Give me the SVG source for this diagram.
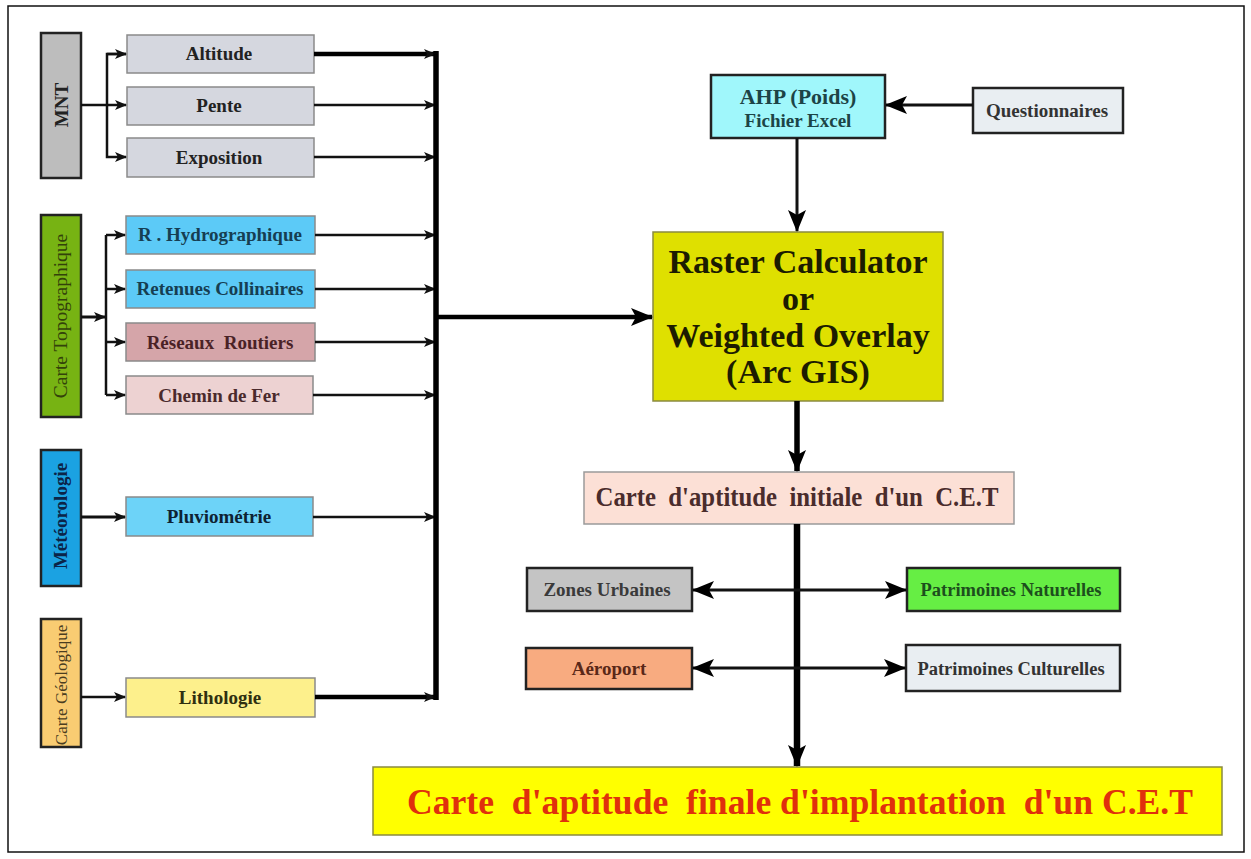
<svg xmlns="http://www.w3.org/2000/svg" width="1251" height="859" viewBox="0 0 1251 859">
<style>
text{font-family:"Liberation Serif","Times New Roman",serif;font-weight:bold;text-anchor:middle}
.cat{stroke:#222;stroke-width:2.5}
.in{stroke:#8a8a8a;stroke-width:1.5}
.dk{stroke:#222;stroke-width:2.5}
.ln{fill:none;stroke:#111;stroke-width:2.5}
.w3{stroke-width:3}
.w4{stroke-width:4.5;stroke:#000}
.w5{stroke-width:5.5;stroke:#000}
.w6{stroke-width:6.5;stroke:#000}
.lt{font-size:19px}
.rg{font-weight:normal}
</style>
<defs>
<marker id="a" markerUnits="userSpaceOnUse" markerWidth="12" markerHeight="10" refX="11" refY="5" orient="auto"><path d="M0,0 L12,5 L0,10 L3,5 Z" fill="#111"/></marker>
<marker id="b" markerUnits="userSpaceOnUse" markerWidth="22" markerHeight="18" refX="21" refY="9" orient="auto"><path d="M0,0 L22,9 L0,18 L5,9 Z" fill="#000"/></marker>
<marker id="bs" markerUnits="userSpaceOnUse" markerWidth="22" markerHeight="18" refX="1" refY="9" orient="auto"><path d="M22,0 L0,9 L22,18 L17,9 Z" fill="#000"/></marker>
</defs>
<rect x="8" y="6" width="1236" height="846" fill="#fff" stroke="#111" stroke-width="1.5"/>

<g id="mnt"><rect class="cat" x="41" y="33" width="40" height="145" fill="#bdbdbd"/><text transform="translate(68,105) rotate(-90)" font-size="19" fill="#222">MNT</text></g>
<g id="altitude"><rect class="in" x="127" y="35" width="187" height="38" fill="#d5d7df"/><text class="lt" x="219" y="60" fill="#222">Altitude</text></g>
<g id="pente"><rect class="in" x="127" y="87" width="187" height="38" fill="#d5d7df"/><text class="lt" x="219" y="112" fill="#222">Pente</text></g>
<g id="exposition"><rect class="in" x="127" y="138" width="187" height="39" fill="#d5d7df"/><text class="lt" x="219" y="164" fill="#222">Exposition</text></g>

<g id="topo"><rect class="cat" x="41" y="215" width="40" height="202" fill="#77b313"/><text class="rg" transform="translate(67,316) rotate(-90)" font-size="19.5" fill="#33420a">Carte Topographique</text></g>
<g id="hydro"><rect class="in" x="126" y="216" width="189" height="38" fill="#5ccaf7"/><text class="lt" x="220" y="241" fill="#163e52">R . Hydrographique</text></g>
<g id="retenues"><rect class="in" x="126" y="270" width="189" height="38" fill="#5ccaf7"/><text class="lt" x="220" y="295" fill="#163e52">Retenues Collinaires</text></g>
<g id="reseaux"><rect class="in" x="126" y="323" width="189" height="38" fill="#d5a5a9"/><text class="lt" x="220" y="349" fill="#4a2226" xml:space="preserve">Réseaux  Routiers</text></g>
<g id="chemin"><rect class="in" x="126" y="376" width="187" height="38" fill="#edd2d2"/><text class="lt" x="219" y="402" fill="#4a2a2c">Chemin de Fer</text></g>

<g id="meteo"><rect class="cat" x="41" y="450" width="40" height="136" fill="#1ba2e2"/><text transform="translate(67,516) rotate(-90)" font-size="19" fill="#0b2448">Météorologie</text></g>
<g id="pluvio"><rect class="in" x="126" y="497" width="187" height="39" fill="#6dd3f8"/><text class="lt" x="219" y="523" fill="#0d2233">Pluviométrie</text></g>

<g id="geo"><rect class="cat" x="41" y="619" width="40" height="128" fill="#f9cc72"/><text class="rg" transform="translate(67,685) rotate(-90)" font-size="17" fill="#4a3d20">Carte Géologique</text></g>
<g id="litho"><rect class="in" x="126" y="678" width="189" height="39" fill="#fdf08c"/><text class="lt" x="220" y="704" fill="#2f2f10">Lithologie</text></g>

<g id="ahp"><rect class="dk" x="711" y="75" width="174" height="63" fill="#a0f7fb"/><text x="798" y="104" font-size="22" fill="#1c4446">AHP (Poids)</text><text x="798" y="127" font-size="19" fill="#1c4446">Fichier Excel</text></g>
<g id="questionnaires"><rect class="dk" x="973" y="88" width="150" height="45" fill="#e9eef2"/><text x="1047" y="117" font-size="19" fill="#333">Questionnaires</text></g>

<g id="raster"><rect x="653" y="232" width="290" height="169" fill="#dfe000" stroke="#8a8a40" stroke-width="1.5"/>
<text x="798" y="273" font-size="34" fill="#1c1c00">Raster Calculator</text>
<text x="798" y="310" font-size="34" fill="#1c1c00">or</text>
<text x="798" y="347" font-size="34" fill="#1c1c00">Weighted Overlay</text>
<text x="798" y="383" font-size="34" fill="#1c1c00">(Arc GIS)</text></g>

<g id="initiale"><rect x="584" y="472" width="430" height="52" fill="#fce0d6" stroke="#9a9a9a" stroke-width="1.5"/><text x="797" y="506" font-size="27" fill="#4a2c2c" textLength="403" lengthAdjust="spacingAndGlyphs" xml:space="preserve">Carte  d'aptitude  initiale  d'un  C.E.T</text></g>

<g id="zones"><rect class="dk" x="527" y="568" width="165" height="43" fill="#c4c4c4"/><text x="607" y="596" font-size="19" fill="#3a3a3a">Zones Urbaines</text></g>
<g id="naturelles"><rect class="dk" x="907" y="568" width="213" height="43" fill="#66ee44"/><text x="1011" y="596" font-size="18.5" fill="#1d4f1d">Patrimoines Naturelles</text></g>
<g id="aeroport"><rect class="dk" x="526" y="648" width="166" height="41" fill="#f8ab80"/><text x="609" y="675" font-size="19" fill="#5a2818">Aéroport</text></g>
<g id="culturelles"><rect class="dk" x="906" y="645" width="214" height="46" fill="#e9eef2"/><text x="1011" y="675" font-size="18.5" fill="#333">Patrimoines Culturelles</text></g>

<g id="finale"><rect x="373" y="767" width="849" height="68" fill="#ffff00" stroke="#8a8a40" stroke-width="1.5"/><text x="800" y="814" font-size="35" fill="#e0300c" textLength="786" lengthAdjust="spacingAndGlyphs" xml:space="preserve">Carte  d'aptitude  finale d'implantation  d'un C.E.T</text></g>

<g id="connectors">
<path class="ln" d="M81,105 H126" marker-end="url(#a)"/>
<path class="ln" d="M126,54 H107 V157 H126" marker-end="url(#a)"/>
<path class="ln" d="M107,54 H126" marker-end="url(#a)"/>
<path class="ln w3" d="M81,317 H105" marker-end="url(#a)"/>
<path class="ln" d="M106,235 V395"/>
<path class="ln" d="M106,235 H125" marker-end="url(#a)"/>
<path class="ln" d="M106,289 H125" marker-end="url(#a)"/>
<path class="ln" d="M106,342 H125" marker-end="url(#a)"/>
<path class="ln" d="M106,395 H125" marker-end="url(#a)"/>
<path class="ln w3" d="M81,517 H125" marker-end="url(#a)"/>
<path class="ln" d="M81,697 H125" marker-end="url(#a)"/>

<path class="ln w4" d="M314,54 H435" marker-end="url(#a)"/>
<path class="ln" d="M314,105 H435" marker-end="url(#a)"/>
<path class="ln" d="M314,157 H435" marker-end="url(#a)"/>
<path class="ln" d="M315,235 H435" marker-end="url(#a)"/>
<path class="ln" d="M315,289 H435" marker-end="url(#a)"/>
<path class="ln" d="M315,342 H435" marker-end="url(#a)"/>
<path class="ln" d="M313,395 H435" marker-end="url(#a)"/>
<path class="ln" d="M313,517 H435" marker-end="url(#a)"/>
<path class="ln w4" d="M315,697 H435" marker-end="url(#a)"/>
<path class="ln w5" d="M436,51 V700"/>
<path class="ln w4" d="M436,317 H652" marker-end="url(#b)"/>

<path class="ln w3" d="M973,105 H886" marker-end="url(#b)"/>
<path class="ln w3" d="M797,138 V231" marker-end="url(#b)"/>
<path class="ln w5" d="M797,401 V471" marker-end="url(#b)"/>
<path class="ln w6" d="M797,524 V766" marker-end="url(#b)"/>
<path class="ln w3" d="M693,590 H906" marker-start="url(#bs)" marker-end="url(#b)"/>
<path class="ln w3" d="M693,668 H905" marker-start="url(#bs)" marker-end="url(#b)"/>
</g>
</svg>
